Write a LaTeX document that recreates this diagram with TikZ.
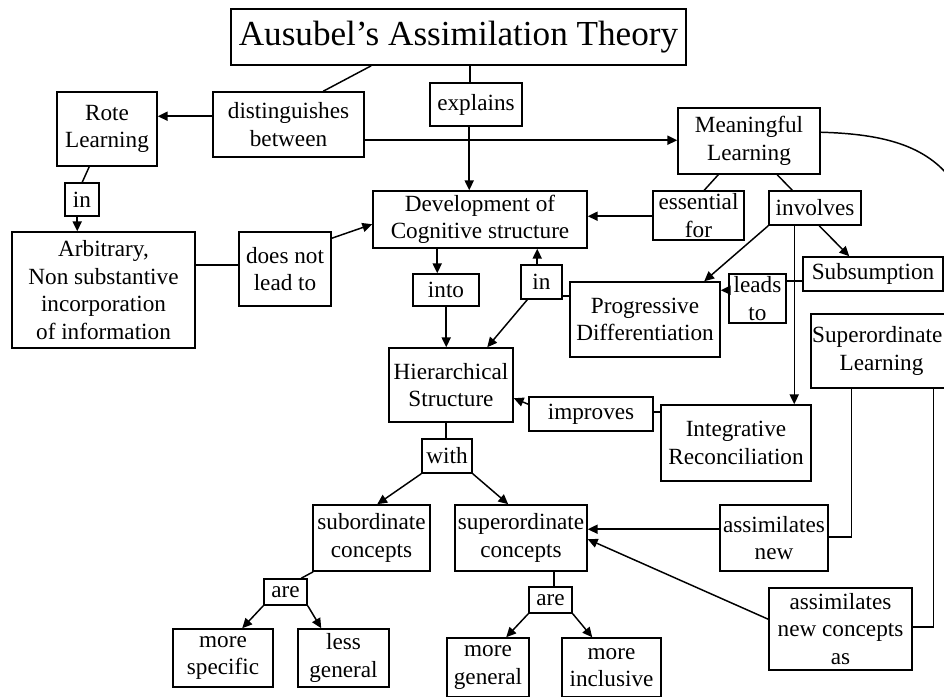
\documentclass[tikz,border=0pt]{standalone}
\usepackage{fontspec}
\setmainfont{Liberation Serif}
\usetikzlibrary{arrows.meta,calc}

% box given by its corners (x1,y1) and (x2,y2) in pixel units, y downwards
\newcommand\mapbox[6]{%
  \node[box, minimum width={(#4-#2)*0.025cm}, minimum height={(#5-#3)*0.025cm}]
    (#1) at ({(#2+#4)/2},{(#3+#5)/2}) {#6};}

\begin{document}
\begin{tikzpicture}[x=0.025cm, y=-0.025cm,
  box/.style={draw, line width=1.1pt, inner sep=0pt, align=center,
    font={\fontsize{16.5}{19.5}\selectfont}},
  link/.style={line width=1.05pt},
  arr/.style={line width=1.05pt, -{Triangle[length=7pt,width=6.5pt]}}]
\useasboundingbox (0,0) rectangle (944,696);
\fill[white] (0,0) rectangle (944,696);
\clip (0,0) rectangle (944,696);

% concepts and linking phrases
\mapbox{title}{231}{9}{686}{65}{\fontsize{25}{30}\selectfont Ausubel’s Assimilation Theory}
\mapbox{dist}{213}{92}{364}{157}{distinguishes\\between}
\mapbox{expl}{430}{83}{522}{126}{explains}
\mapbox{rote}{57}{92}{157}{166}{Rote\\Learning}
\mapbox{mean}{678}{108}{820}{174}{Meaningful\\Learning}
\mapbox{dev}{373}{191}{587}{248}{Development of\\Cognitive structure}
\mapbox{inL}{65}{183}{99}{216}{in}
\mapbox{arb}{12}{232}{195}{348}{Arbitrary,\\Non substantive\\incorporation\\of information}
\mapbox{dnl}{239}{232}{331}{306}{does not\\lead to}
\mapbox{into}{413}{274}{479}{306}{into}
\mapbox{hier}{389}{348}{513}{422}{Hierarchical\\Structure}
\mapbox{inR}{521}{265}{562}{299}{in}
\mapbox{prog}{570}{282}{720}{357}{Progressive\\Differentiation}
\mapbox{ess}{653}{191}{744}{240}{essential\\for}
\mapbox{inv}{769}{191}{861}{225}{involves}
\mapbox{subs}{803}{257}{943}{291}{Subsumption}
\mapbox{integ}{661}{405}{811}{481}{Integrative\\Reconciliation}
\mapbox{leads}{729}{274}{786}{323}{leads\\to}
\mapbox{supL}{811}{314}{952}{388}{\hspace*{-6pt}Superordinate\\Learning}
\mapbox{imp}{529}{397}{653}{431}{improves}
\mapbox{wth}{422}{439}{472}{473}{with}
\mapbox{sub}{313}{505}{430}{571}{subordinate\\concepts}
\mapbox{sup}{455}{505}{587}{571}{superordinate\\concepts}
\mapbox{areL}{264}{579}{307}{605}{are}
\mapbox{areR}{529}{587}{572}{613}{are}
\mapbox{spec}{173}{629}{273}{687}{more\\specific}
\mapbox{lgen}{298}{629}{389}{687}{less\\general}
\mapbox{mgen}{447}{638}{529}{697}{more\\general}
\mapbox{minc}{562}{638}{661}{697}{more\\inclusive}
\mapbox{asn}{720}{505}{828}{571}{assimilates\\new}
\mapbox{asnc}{769}{588}{912}{670}{assimilates\\new concepts\\as}

% connectors
\draw[link] ($(title.south west)+(141,0)$) -- ($(dist.north west)+(111,0)$);
\draw[link] ($(title.south west)+(240,0)$) -- ($(expl.north west)+(41,0)$);
\draw[arr] ($(dist.north west)+(0,25)$) -- ($(rote.north east)+(0,25)$);
\draw[arr] ($(dist.north east)+(0,49)$) -- ($(mean.north west)+(0,33)$);
\draw[arr] ($(expl.south west)+(40,0)$) -- ($(dev.north west)+(97,0)$);
\draw[link] ($(rote.south west)+(33,0)$) -- ($(inL.north west)+(18,0)$);
\draw[arr] ($(inL.south west)+(13,0)$) -- ($(arb.north west)+(66,0)$);
\draw[link] ($(arb.north east)+(0,34)$) -- ($(dnl.north west)+(0,34)$);
\draw[arr] ($(dnl.north east)+(0,7)$) -- ($(dev.north west)+(0,34)$);
\draw[arr] ($(dev.south west)+(65,0)$) -- ($(into.north west)+(25,0)$);
\draw[arr] ($(into.south west)+(34,0)$) -- ($(hier.north west)+(58,0)$);
\draw[arr] ($(inR.north west)+(17,0)$) -- ($(dev.south west)+(165,0)$);
\draw[arr] ($(inR.south west)+(7,0)$) -- ($(hier.north west)+(99,0)$);
\draw[link] ($(inR.north east)+(0,32)$) -- ($(prog.north west)+(0,15)$);
\draw[link] ($(mean.south west)+(41,0)$) -- ($(ess.north west)+(52,0)$);
\draw[arr] ($(ess.north west)+(0,26)$) -- ($(dev.north east)+(0,26)$);
\draw[link] ($(mean.south west)+(100,0)$) -- ($(inv.north west)+(24,0)$);
\draw[arr] (inv.south west) -- ($(prog.north west)+(135,0)$);
\draw[arr] ($(inv.south west)+(51,0)$) -- ($(subs.north west)+(47,0)$);
\draw[arr] ($(inv.south west)+(26,0)$) -- ($(integ.north west)+(134,0)$);
\draw[link] ($(subs.north west)+(0,25)$) -- ($(leads.north east)+(0,8)$);
\draw[arr] ($(leads.north west)+(0,17)$) -- ($(prog.north east)+(0,9)$);
\draw[arr] ($(imp.north west)+(0,8)$) -- ($(hier.north east)+(0,51)$);
\draw[link] ($(imp.north east)+(0,16)$) -- ($(integ.north west)+(0,8)$);
\draw[link] ($(hier.south west)+(58,0)$) -- ($(wth.north west)+(25,0)$);
\draw[arr] (wth.south west) -- ($(sub.north west)+(65,0)$);
\draw[arr] (wth.south east) -- ($(sup.north west)+(54,0)$);
\draw[link] ($(sub.south west)+(1,0)$) -- ($(areL.north west)+(38,0)$);
\draw[arr] (areL.south west) -- ($(spec.north west)+(70,0)$);
\draw[arr] (areL.south east) -- ($(lgen.north west)+(24,0)$);
\draw[link] ($(sup.south west)+(100,0)$) -- ($(areR.north west)+(26,0)$);
\draw[arr] (areR.south west) -- ($(mgen.north west)+(60,0)$);
\draw[arr] (areR.south east) -- ($(minc.north west)+(31,0)$);
\draw[link] ($(supL.south west)+(41,0)$) |- ($(asn.north east)+(0,33)$);
\draw[arr] ($(asn.north west)+(0,25)$) -- ($(sup.north east)+(0,25)$);
\draw[link] ($(supL.south west)+(123,0)$) |- ($(asnc.north east)+(0,40)$);
\draw[arr] ($(asnc.north west)+(0,32)$) -- ($(sup.north east)+(0,35)$);

% link from Meaningful Learning leaving over the right edge
\coordinate (rightexit) at (952,180);
\draw[link] ($(mean.north east)+(0,25)$) .. controls (885,134) and (926,146) .. (rightexit);
\end{tikzpicture}
\end{document}
